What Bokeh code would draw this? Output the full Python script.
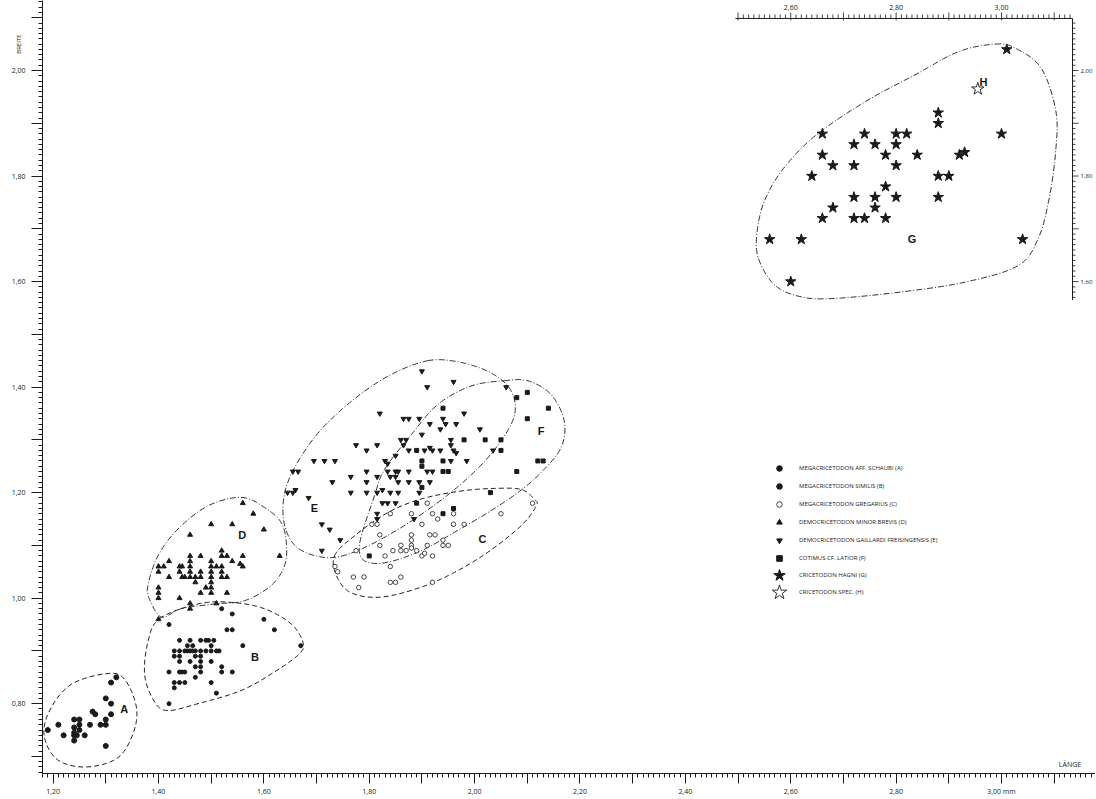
import numpy as np
from bokeh.plotting import figure
from bokeh.models import Range1d, FixedTicker, Legend, LegendItem, Label
from bokeh.core.properties import value
from bokeh.embed import file_html
from bokeh.resources import INLINE

# ---------------- data ----------------
xA = [1.19, 1.21, 1.22, 1.24, 1.24, 1.24, 1.24, 1.24, 1.245, 1.25, 1.25, 1.25, 1.26,
      1.27, 1.275, 1.28, 1.29, 1.30, 1.30, 1.30, 1.30, 1.31, 1.31, 1.31, 1.32]
yA = [0.75, 0.76, 0.74, 0.77, 0.755, 0.745, 0.74, 0.73, 0.74, 0.77, 0.76, 0.75, 0.74,
      0.76, 0.785, 0.78, 0.76, 0.77, 0.76, 0.81, 0.72, 0.84, 0.80, 0.78, 0.85]

xB = [1.42, 1.52, 1.54, 1.60, 1.53, 1.54, 1.62, 1.67, 1.56,
      1.44, 1.46, 1.48, 1.49, 1.495, 1.505,
      1.43, 1.44, 1.45, 1.455, 1.46, 1.465, 1.47, 1.48, 1.49, 1.50, 1.51, 1.515,
      1.455, 1.465, 1.50,
      1.43, 1.44, 1.47, 1.48,
      1.44, 1.46, 1.48, 1.50,
      1.47, 1.48, 1.52,
      1.42, 1.44, 1.445, 1.45, 1.48, 1.52, 1.54,
      1.47,
      1.43, 1.44, 1.45, 1.50,
      1.43, 1.51, 1.42]
yB = [0.95, 0.98, 0.97, 0.96, 0.94, 0.94, 0.94, 0.91, 0.91,
      0.92, 0.92, 0.92, 0.92, 0.92, 0.92,
      0.90, 0.90, 0.90, 0.90, 0.90, 0.90, 0.90, 0.90, 0.90, 0.90, 0.90, 0.90,
      0.91, 0.91, 0.91,
      0.89, 0.89, 0.89, 0.89,
      0.88, 0.88, 0.88, 0.88,
      0.87, 0.87, 0.87,
      0.86, 0.86, 0.86, 0.86, 0.86, 0.86, 0.86,
      0.85,
      0.84, 0.84, 0.84, 0.84,
      0.83, 0.82, 0.80]

xC = [1.91, 1.84, 1.88, 1.92, 1.93, 1.96, 2.05, 2.11,
      1.805, 1.815, 1.90, 1.96, 1.98,
      1.82, 1.88, 1.915, 1.925,
      1.88, 1.94,
      1.82, 1.86, 1.88, 1.91, 1.94, 1.95,
      1.845, 1.86, 1.87, 1.88, 1.775, 1.89,
      1.90, 1.905, 1.92, 1.83,
      1.735, 1.74, 1.84,
      1.77, 1.79, 1.84, 1.85, 1.86, 1.78, 1.92]
yC = [1.18, 1.16, 1.16, 1.16, 1.15, 1.16, 1.16, 1.18,
      1.14, 1.14, 1.14, 1.14, 1.14,
      1.12, 1.12, 1.12, 1.12,
      1.11, 1.11,
      1.10, 1.10, 1.10, 1.10, 1.10, 1.10,
      1.09, 1.09, 1.09, 1.095, 1.09, 1.09,
      1.08, 1.085, 1.08, 1.08,
      1.06, 1.05, 1.06,
      1.04, 1.04, 1.03, 1.03, 1.04, 1.02, 1.03]

xD = [1.56, 1.58, 1.50, 1.54, 1.46, 1.60, 1.52, 1.63,
      1.46, 1.48, 1.52, 1.53, 1.56,
      1.42,
      1.46, 1.50, 1.54, 1.555, 1.56,
      1.40, 1.41, 1.44, 1.445, 1.46, 1.50, 1.51, 1.52,
      1.40, 1.44, 1.46, 1.48, 1.50, 1.52,
      1.42, 1.445, 1.45, 1.46, 1.47, 1.48, 1.50, 1.52, 1.53,
      1.47, 1.50,
      1.49, 1.50, 1.40,
      1.40, 1.48, 1.50, 1.53,
      1.40, 1.44,
      1.46, 1.46, 1.51, 1.40]
yD = [1.18, 1.16, 1.14, 1.14, 1.12, 1.13, 1.09, 1.08,
      1.08, 1.08, 1.08, 1.08, 1.08,
      1.07,
      1.07, 1.07, 1.07, 1.065, 1.06,
      1.06, 1.06, 1.06, 1.06, 1.06, 1.06, 1.06, 1.06,
      1.05, 1.05, 1.05, 1.05, 1.05, 1.05,
      1.04, 1.04, 1.04, 1.04, 1.04, 1.04, 1.04, 1.04, 1.04,
      1.03, 1.03,
      1.02, 1.02, 1.02,
      1.01, 1.01, 1.01, 1.01,
      1.00, 1.00,
      0.99, 0.98, 0.99, 0.96]

xE = [1.90, 1.96, 1.91, 2.06, 1.82,
      1.865, 1.875, 1.895, 1.94, 1.98,
      1.915, 1.935, 1.945, 1.965, 2.01,
      1.90, 1.86, 1.87, 1.955, 1.955,
      1.775, 1.795, 1.815, 1.865,
      1.875, 1.905, 1.915, 1.92, 1.935, 1.96, 1.965, 2.035,
      1.85,
      1.695, 1.715, 1.735, 1.83, 1.835, 1.955, 1.985,
      1.655, 1.665, 1.795, 1.835, 1.85, 1.855, 1.875, 1.91, 1.92,
      1.84, 1.85,
      1.73, 1.765, 1.795, 1.815,
      1.855, 1.875, 1.895, 1.915,
      1.645, 1.655, 1.66,
      1.765, 1.795, 1.815, 1.825, 1.84, 1.855, 1.895,
      1.685,
      1.825, 1.835, 1.85,
      1.815, 1.815, 1.885,
      1.71, 1.725, 1.745, 1.71]
yE = [1.43, 1.41, 1.40, 1.40, 1.35,
      1.34, 1.34, 1.34, 1.34, 1.35,
      1.33, 1.32, 1.33, 1.33, 1.32,
      1.31, 1.30, 1.30, 1.30, 1.29,
      1.29, 1.28, 1.29, 1.29,
      1.28, 1.28, 1.285, 1.28, 1.28, 1.28, 1.275, 1.28,
      1.27,
      1.26, 1.26, 1.26, 1.26, 1.255, 1.26, 1.26,
      1.24, 1.24, 1.24, 1.24, 1.24, 1.24, 1.24, 1.24, 1.24,
      1.23, 1.23,
      1.22, 1.23, 1.22, 1.23,
      1.22, 1.22, 1.22, 1.22,
      1.20, 1.20, 1.205,
      1.20, 1.20, 1.20, 1.205, 1.20, 1.20, 1.20,
      1.19,
      1.18, 1.18, 1.18,
      1.15, 1.16, 1.15,
      1.14, 1.13, 1.11, 1.09]

xF = [2.08, 2.10, 2.14, 1.94, 2.10, 1.98, 2.02, 2.05, 2.05, 1.89, 1.90, 1.90,
      1.94, 1.94, 1.95, 2.12, 2.13, 2.08, 1.90, 1.89, 2.03, 1.96, 1.94, 1.80]
yF = [1.38, 1.39, 1.36, 1.36, 1.34, 1.30, 1.30, 1.30, 1.28, 1.28, 1.26, 1.25,
      1.26, 1.24, 1.24, 1.26, 1.26, 1.24, 1.21, 1.18, 1.20, 1.17, 1.16, 1.08]

xG = [3.01, 2.88, 2.88, 2.66, 2.74, 2.80, 2.82, 3.00,
      2.72, 2.76, 2.80, 2.66, 2.78, 2.84, 2.92, 2.93,
      2.68, 2.72, 2.80, 2.64, 2.88, 2.90, 2.78,
      2.72, 2.76, 2.80, 2.88, 2.68, 2.76, 2.66,
      2.72, 2.74, 2.78, 2.56, 2.62, 3.04, 2.60]
yG = [2.04, 1.92, 1.90, 1.88, 1.88, 1.88, 1.88, 1.88,
      1.86, 1.86, 1.86, 1.84, 1.84, 1.84, 1.84, 1.845,
      1.82, 1.82, 1.82, 1.80, 1.80, 1.80, 1.78,
      1.76, 1.76, 1.76, 1.76, 1.74, 1.74, 1.72,
      1.72, 1.72, 1.72, 1.68, 1.68, 1.68, 1.60]

xH = [2.955]
yH = [1.965]

legend_labels = [
    "MEGACRICETODON AFF. SCHAUBI (A)",
    "MEGACRICETODON SIMILIS (B)",
    "MEGACRICETODON GREGARIUS (C)",
    "DEMOCRICETODON MINOR BREVIS (D)",
    "DEMOCRICETODON GAILLARDI FREISINGENSIS (E)",
    "COTIMUS CF. LATIOR (F)",
    "CRICETODON HAGNI (G)",
    "CRICETODON SPEC. (H)",
]

group_letters = ["A", "B", "C", "D", "E", "F", "G", "H"]
letter_x = [1.335, 1.583, 2.015, 1.559, 1.696, 2.126, 2.83, 2.966]
letter_y = [0.790, 0.888, 1.112, 1.120, 1.170, 1.317, 1.68, 1.978]

# hand-drawn envelopes (control points)
outA_x = [1.183, 1.195, 1.235, 1.302, 1.335, 1.358, 1.352, 1.322, 1.262, 1.208]
outA_y = [0.740, 0.790, 0.837, 0.857, 0.847, 0.794, 0.744, 0.697, 0.680, 0.694]
outB_x = [1.402, 1.475, 1.538, 1.601, 1.652, 1.674, 1.668, 1.620, 1.557, 1.475, 1.418, 1.393, 1.374, 1.380]
outB_y = [0.961, 0.989, 0.992, 0.980, 0.951, 0.917, 0.895, 0.860, 0.825, 0.800, 0.787, 0.803, 0.853, 0.917]
outC_x = [1.734, 1.772, 1.835, 1.899, 1.974, 2.038, 2.088, 2.113, 2.117, 2.088, 2.025, 1.962, 1.899, 1.823, 1.766, 1.739]
outC_y = [1.080, 1.118, 1.162, 1.188, 1.203, 1.208, 1.206, 1.188, 1.175, 1.137, 1.087, 1.049, 1.021, 1.002, 1.010, 1.040]
outD_x = [1.557, 1.601, 1.633, 1.643, 1.639, 1.614, 1.563, 1.507, 1.443, 1.406, 1.383, 1.380, 1.399, 1.437, 1.494]
outD_y = [1.191, 1.172, 1.143, 1.102, 1.061, 1.024, 0.995, 0.989, 0.980, 0.964, 0.998, 1.024, 1.080, 1.131, 1.175]
outE_x = [1.911, 1.968, 2.025, 2.063, 2.077, 2.069, 2.031, 1.974, 1.899, 1.823, 1.756, 1.709, 1.662, 1.639, 1.639, 1.662, 1.709, 1.775, 1.842]
outE_y = [1.450, 1.448, 1.430, 1.402, 1.367, 1.329, 1.273, 1.216, 1.159, 1.112, 1.082, 1.078, 1.097, 1.140, 1.197, 1.254, 1.320, 1.380, 1.424]
outF_x = [2.056, 2.101, 2.145, 2.170, 2.164, 2.126, 2.082, 2.025, 1.962, 1.899, 1.835, 1.797, 1.782, 1.785, 1.810, 1.829, 1.880, 1.930, 1.993]
outF_y = [1.412, 1.412, 1.386, 1.336, 1.285, 1.238, 1.200, 1.162, 1.125, 1.090, 1.068, 1.068, 1.084, 1.118, 1.194, 1.244, 1.310, 1.367, 1.402]
outG_x = [2.988, 3.025, 3.075, 3.103, 3.103, 3.090, 3.069, 3.031, 2.931, 2.807, 2.682, 2.620, 2.570, 2.539, 2.536, 2.551, 2.589, 2.651, 2.745, 2.838, 2.919]
outG_y = [2.050, 2.043, 2.005, 1.924, 1.849, 1.755, 1.680, 1.630, 1.599, 1.580, 1.568, 1.571, 1.593, 1.643, 1.693, 1.755, 1.818, 1.880, 1.943, 1.993, 2.036]

x_label_values = [1.20, 1.40, 1.60, 1.80, 2.00, 2.20, 2.40, 2.60, 2.80, 3.00]
x_tick_labels = ["1,20", "1,40", "1,60", "1,80", "2,00", "2,20", "2,40", "2,60", "2,80", "3,00 mm"]
y_label_values = [0.80, 1.00, 1.20, 1.40, 1.60, 1.80, 2.00]
y_tick_labels = ["0,80", "1,00", "1,20", "1,40", "1,60", "1,80", "2,00"]
inset_x_label_values = [2.60, 2.80, 3.00]
inset_x_tick_labels = ["2,60", "2,80", "3,00"]
inset_y_label_values = [1.60, 1.80, 2.00]
inset_y_tick_labels = ["1,60", "1,80", "2,00"]

# ---------------- layout / style ----------------
INK = "#1a1a1a"
FONT = "Open Sans"
W, H = 1095, 798
BL, BB = 41, 23
FW, FH = W - BL, H - BB
PXX, PXY = 527.4, 529.0          # pixels per data unit
X0 = 1.20 - 10.6 / PXX
X1 = X0 + FW / PXX
Y0 = 0.80 - 70.0 / PXY
Y1 = Y0 + FH / PXY
ux, uy = 1 / PXX, 1 / PXY

p = figure(width=W, height=H, x_range=Range1d(X0, X1), y_range=Range1d(Y0, Y1),
           output_backend="svg", toolbar_location=None,
           min_border_left=BL, min_border_bottom=BB, min_border_top=0, min_border_right=0)
p.xgrid.visible = False
p.ygrid.visible = False
p.outline_line_color = None
p.background_fill_color = "white"
p.border_fill_color = "white"

def setup_axis(ax, lo, hi, label_values, labels):
    majors = [round(v, 2) for v in np.arange(lo, hi + 1e-9, 0.1)]
    minors = [round(v, 2) for v in np.arange(lo - 0.1, hi + 0.1 + 1e-9, 0.01)]
    ax.ticker = FixedTicker(ticks=majors, minor_ticks=minors)
    ov = {float(m): "" for m in majors}
    for v, t in zip(label_values, labels):
        ov[float(round(v, 2))] = t
    ax.major_label_overrides = ov
    ax.axis_line_color = INK
    ax.major_tick_line_color = INK
    ax.minor_tick_line_color = INK
    ax.major_tick_in = 0
    ax.minor_tick_in = 0
    ax.minor_tick_out = 4
    ax.major_label_text_font = FONT
    ax.major_label_text_font_size = "7px"
    ax.major_label_text_color = INK

setup_axis(p.xaxis[0], 1.2, 3.1, x_label_values, x_tick_labels)
p.xaxis[0].major_tick_out = 10
p.xaxis[0].major_label_standoff = 3
setup_axis(p.yaxis[0], 0.7, 2.1, y_label_values, y_tick_labels)
p.yaxis[0].major_tick_out = 11
p.yaxis[0].major_label_standoff = 6

# ---------------- envelopes ----------------
def closed_curve(xs, ys, n=16):
    P = np.column_stack([xs, ys])
    m = len(P)
    t = np.linspace(0, 1, n, endpoint=False)[:, None]
    parts = []
    for i in range(m):
        p0, p1, p2, p3 = P[(i - 1) % m], P[i], P[(i + 1) % m], P[(i + 2) % m]
        parts.append(0.5 * (2 * p1 + (-p0 + p2) * t + (2 * p0 - 5 * p1 + 4 * p2 - p3) * t ** 2
                            + (-p0 + 3 * p1 - 3 * p2 + p3) * t ** 3))
    parts.append(P[:1])
    Q = np.vstack(parts)
    return list(Q[:, 0]), list(Q[:, 1])

dashed = [closed_curve(outA_x, outA_y), closed_curve(outB_x, outB_y), closed_curve(outC_x, outC_y)]
dashdot = [closed_curve(outD_x, outD_y), closed_curve(outE_x, outE_y),
           closed_curve(outF_x, outF_y), closed_curve(outG_x, outG_y)]
p.multi_line([c[0] for c in dashed], [c[1] for c in dashed], line_color=INK,
             line_width=1, line_dash="5 3")
p.multi_line([c[0] for c in dashdot], [c[1] for c in dashdot], line_color=INK,
             line_width=0.9, line_dash="6 2 1 2")

# ---------------- points ----------------
rA = p.scatter(xA, yA, marker="circle", size=5, color=INK)
rB = p.scatter(xB, yB, marker="circle", size=4, color=INK)
rC = p.scatter(xC, yC, marker="circle", size=4.5, fill_color="white", line_color=INK, line_width=0.8)
rD = p.scatter(xD, yD, marker="triangle", size=5, color=INK)
rE = p.scatter(xE, yE, marker="inverted_triangle", size=5, color=INK)
rF = p.scatter(xF, yF, marker="square", size=4, color=INK)
rG = p.scatter(xG, yG, marker="star", size=11, color=INK)
rH = p.scatter(xH, yH, marker="star", size=13, fill_color="white", line_color=INK, line_width=0.9)

p.text(letter_x, letter_y, text=group_letters, text_font=value("Liberation Sans"),
       text_font_style="bold", text_font_size="11px", text_color=INK,
       text_align="center", text_baseline="middle")

# ---------------- inset axes (top and right) ----------------
IT = Y1 - 18 * uy                 # inset top axis line (data y)
IR = X0 + 1031 * ux               # inset right axis line (data x)
IL = 2.495
IB = 1.565
p.segment([IL, IR], [IT, IT], [IR, IR], [IT, IB], line_color=INK, line_width=1)

tx = [round(v, 2) for v in np.arange(2.50, IR, 0.01)]
is_major_x = [abs(v * 10 - round(v * 10)) < 1e-6 for v in tx]
p.segment(tx, [IT - (2 * uy if m else 0) for m in is_major_x],
          tx, [IT + (6 if m else 4) * uy for m in is_major_x], line_color=INK, line_width=0.8)
ty = [round(v, 2) for v in np.arange(1.57, IT, 0.01)]
is_major_y = [abs(v * 10 - round(v * 10)) < 1e-6 for v in ty]
p.segment([IR] * len(ty), ty, [IR + (6 if m else 3) * ux for m in is_major_y], ty,
          line_color=INK, line_width=0.8)
p.text(inset_x_label_values, [IT] * 3, text=inset_x_tick_labels, y_offset=-8,
       text_font=value(FONT), text_font_size="7px", text_color=INK,
       text_align="center", text_baseline="bottom")
p.text([IR] * 3, inset_y_label_values, text=inset_y_tick_labels, x_offset=8,
       text_font=value(FONT), text_font_size="6px", text_color=INK,
       text_align="left", text_baseline="middle")

# axis titles
p.text([3.13], [Y0], text=["LÄNGE"], y_offset=-5, text_font=value(FONT),
       text_font_size="7px", text_color=INK, text_align="center", text_baseline="bottom")
p.add_layout(Label(x=X0 - 24 * ux, y=2.05, text="BREITE", angle=np.pi / 2,
                   text_font=FONT, text_font_size="6px", text_color=INK,
                   text_align="center", text_baseline="middle"), "left")

# ---------------- legend ----------------
def make_legend(labels, renderers, glyph, x, y):
    return Legend(items=[LegendItem(label=l, renderers=[r]) for l, r in zip(labels, renderers)],
                  location=(x, y), orientation="vertical",
                  glyph_width=glyph, glyph_height=glyph, label_height=glyph, spacing=4,
                  label_standoff=20 - glyph // 2, padding=0, margin=0,
                  label_text_font=FONT, label_text_font_size="6px", label_text_color=INK,
                  background_fill_alpha=0, border_line_alpha=0)

p.add_layout(make_legend(legend_labels[:6], [rA, rB, rC, rD, rE, rF], 14, 730, 208), "center")
p.add_layout(make_legend(legend_labels[6:7], [rG], 30, 722, 183), "center")
p.add_layout(make_legend(legend_labels[7:8], [rH], 38, 718, 162), "center")

open("out.html", "w").write(file_html(p, INLINE))
